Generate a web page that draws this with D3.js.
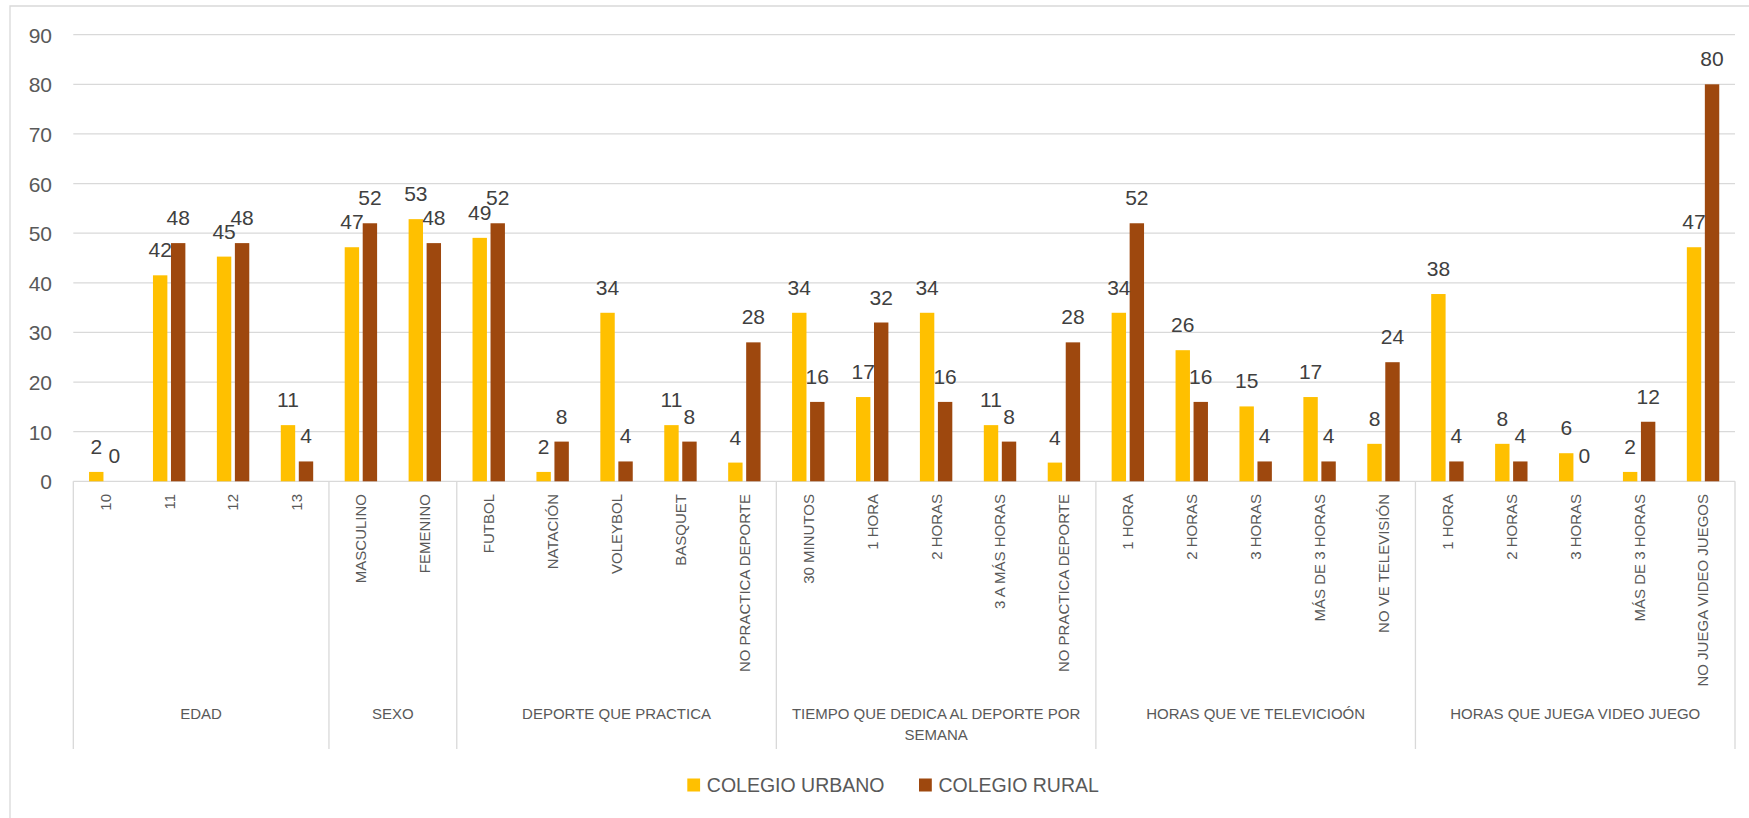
<!DOCTYPE html>
<html>
<head>
<meta charset="utf-8">
<script src="https://cdn.jsdelivr.net/npm/d3@7"></script>
<style>
  html, body { margin: 0; padding: 0; background: #ffffff; }
  svg { display: block; font-family: "Liberation Sans", Arial, sans-serif; }
</style>
</head>
<body>
<svg id="chart" width="1749" height="818"></svg>
<script>
// ---------- data ----------
const categories = ["10","11","12","13","MASCULINO","FEMENINO","FUTBOL","NATACIÓN","VOLEYBOL","BASQUET",
  "NO PRACTICA DEPORTE","30 MINUTOS","1 HORA","2 HORAS","3 A MÁS HORAS","NO PRACTICA DEPORTE",
  "1 HORA","2 HORAS","3 HORAS","MÁS DE 3 HORAS","NO VE TELEVISIÓN",
  "1 HORA","2 HORAS","3 HORAS","MÁS DE 3 HORAS","NO JUEGA VIDEO JUEGOS"];
const groupNames = ["EDAD","SEXO","DEPORTE QUE PRACTICA","TIEMPO QUE DEDICA AL DEPORTE POR SEMANA",
  "HORAS QUE VE TELEVICIOÓN","HORAS QUE JUEGA VIDEO JUEGO"];
const groupSizes = [4, 2, 5, 5, 5, 5];
const seriesNames = ["COLEGIO URBANO", "COLEGIO RURAL"];
const urbano = [1.89, 41.51, 45.28, 11.32, 47.17, 52.83, 49.06, 1.89, 33.96, 11.32, 3.77,
  33.96, 16.98, 33.96, 11.32, 3.77, 33.96, 26.42, 15.09, 16.98, 7.55,
  37.74, 7.55, 5.66, 1.89, 47.17];
const rural = [0, 48, 48, 4, 52, 48, 52, 8, 4, 8, 28,
  16, 32, 16, 8, 28, 52, 16, 4, 4, 24,
  4, 4, 0, 12, 80];
const yTicks = [0, 10, 20, 30, 40, 50, 60, 70, 80, 90];

// ---------- layout ----------
const W = 1749, H = 818;
const plot = { left: 73.3, right: 1735, top: 34.7, bottom: 481.3 };
const colors = ["#FFC000", "#9E480E"];
const grid = "#d9d9d9";

const svg = d3.select("#chart");
svg.append("rect").attr("x", 0).attr("y", 0).attr("width", W).attr("height", H).attr("fill", "#fff");
// outer chart border (runs off the right/bottom edges)
svg.append("path").attr("d", `M10,${H + 2} L10,6 L${W + 2},6`)
  .attr("fill", "none").attr("stroke", grid).attr("stroke-width", 1.3);

const idx = d3.range(categories.length);
const x0 = d3.scaleBand().domain(idx).range([plot.left, plot.right]).padding(0);
const x1 = d3.scaleBand().domain([0, 1]).range([0, x0.bandwidth()]).paddingInner(0.2).paddingOuter(0.875);
const y = d3.scaleLinear().domain([0, 90]).range([plot.bottom, plot.top]);

// gridlines
svg.append("g").selectAll("line").data(yTicks).join("line")
  .attr("x1", plot.left).attr("x2", plot.right)
  .attr("y1", d => y(d)).attr("y2", d => y(d))
  .attr("stroke", grid).attr("stroke-width", 1.3);

// y axis labels
const yAxis = d3.axisLeft(y).tickValues(yTicks).tickSize(0).tickPadding(0).tickFormat(d3.format("d"));
const yg = svg.append("g").attr("transform", `translate(52,0)`).call(yAxis);
yg.select(".domain").remove();
yg.selectAll("text").attr("font-size", 21).attr("fill", "#595959")
  .attr("font-family", "Liberation Sans, Arial, sans-serif").attr("dy", "0.36em");

// bars
const series = [urbano, rural];
series.forEach((vals, s) => {
  svg.append("g").selectAll("rect").data(vals).join("rect")
    .attr("x", (d, i) => x0(i) + x1(s))
    .attr("width", x1.bandwidth())
    .attr("y", d => y(d))
    .attr("height", d => y(0) - y(d))
    .attr("fill", colors[s]);
});

// data labels
const fmt = d3.format(".0f");
series.forEach((vals, s) => {
  svg.append("g").selectAll("text").data(vals).join("text")
    .attr("x", (d, i) => x0(i) + x1(s) + x1.bandwidth() / 2)
    .attr("y", d => y(d) - 18)
    .attr("text-anchor", "middle")
    .attr("font-size", 21).attr("fill", "#404040")
    .text(d => fmt(d));
});

// category labels (rotated)
svg.append("g").selectAll("text").data(categories).join("text")
  .attr("transform", (d, i) => `translate(${x0(i) + x0.bandwidth() / 2},494) rotate(-90)`)
  .attr("text-anchor", "end").attr("dy", "0.36em")
  .attr("font-size", 15).attr("fill", "#595959")
  .text(d => d);

// group separators
const bounds = [0];
groupSizes.forEach(n => bounds.push(bounds[bounds.length - 1] + n));
const sepX = i => (i < categories.length ? x0(i) : plot.right);
svg.append("g").selectAll("line").data(bounds).join("line")
  .attr("x1", d => sepX(d)).attr("x2", d => sepX(d))
  .attr("y1", plot.bottom).attr("y2", 749)
  .attr("stroke", grid).attr("stroke-width", 1.3);

// group labels with wrapping
const gl = svg.append("g");
groupNames.forEach((name, g) => {
  const cx = (sepX(bounds[g]) + sepX(bounds[g + 1])) / 2;
  const maxW = (sepX(bounds[g + 1]) - sepX(bounds[g])) - 10;
  const t = gl.append("text").attr("x", cx).attr("y", 719).attr("text-anchor", "middle")
    .attr("font-size", 15).attr("fill", "#595959");
  const words = name.split(" ");
  let line = [];
  let tspan = t.append("tspan").attr("x", cx).attr("dy", 0);
  let lineNo = 0;
  words.forEach(w => {
    line.push(w);
    tspan.text(line.join(" "));
    if (tspan.node().getComputedTextLength() > maxW && line.length > 1) {
      line.pop();
      tspan.text(line.join(" "));
      line = [w];
      lineNo++;
      tspan = t.append("tspan").attr("x", cx).attr("dy", 21).text(w);
    }
  });
});

// legend
const legendX = [687.3, 919];
seriesNames.forEach((name, s) => {
  svg.append("rect").attr("x", legendX[s]).attr("y", 778.5).attr("width", 12.8).attr("height", 13)
    .attr("fill", colors[s]);
  svg.append("text").attr("x", legendX[s] + 19.5).attr("y", 792.3)
    .attr("font-size", 19.5).attr("fill", "#595959").text(name);
});
</script>
</body>
</html>
